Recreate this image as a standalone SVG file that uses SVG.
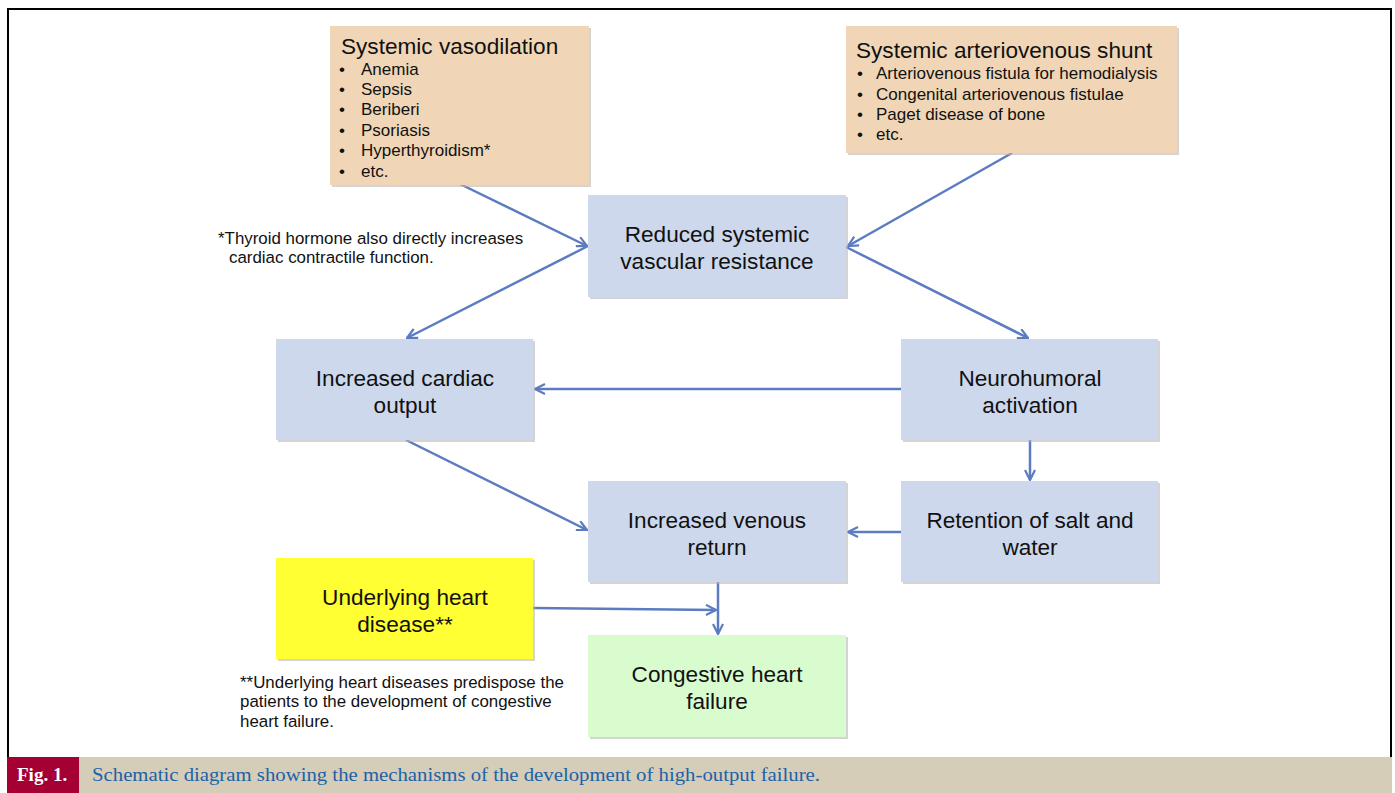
<svg xmlns="http://www.w3.org/2000/svg" width="1395" height="793" viewBox="0 0 1395 793">
<defs>
<style>
.t{font-family:"Liberation Sans",Arial,sans-serif;fill:#111;}
.big{font-size:22.6px;}
.mid{font-size:22.6px;text-anchor:middle;}
.sm{font-size:17px;}
.note{font-size:16.9px;}
.c{stroke:#5b7cc0;stroke-width:2.5;fill:none;marker-end:url(#ah);}
.tan{fill:#f0d6b6;}
.blue{fill:#cdd8ec;}
.sh{fill:#b8b8b8;opacity:0.6;}
</style>
<marker id="ah" viewBox="0 0 12 12" refX="11" refY="6" markerWidth="12" markerHeight="12" markerUnits="userSpaceOnUse" orient="auto">
<path d="M1,1 L11,6 L1,11" fill="none" stroke="#5b7cc0" stroke-width="2.2"/>
</marker>
</defs>
<rect x="0" y="0" width="1395" height="793" fill="#fff"/>
<rect x="8" y="9" width="1383" height="760" fill="none" stroke="#000" stroke-width="2"/>
<rect x="7" y="757" width="1385" height="36" fill="#d5cdb8"/>
<rect x="7" y="757" width="72" height="36" fill="#a50034"/>
<text x="17" y="781" font-family="Liberation Serif,serif" font-weight="bold" font-size="19" fill="#fff">Fig. 1.</text>
<text x="92" y="781" font-family="Liberation Serif,serif" font-size="18" fill="#1c62a8" textLength="728" lengthAdjust="spacingAndGlyphs">Schematic diagram showing the mechanisms of the development of high-output failure.</text>

<g id="connectors">
<line class="c" x1="460" y1="184" x2="587" y2="246"/>
<line class="c" x1="1012" y1="153" x2="848" y2="246"/>
<line class="c" x1="588" y1="246" x2="407" y2="338"/>
<line class="c" x1="846" y1="247" x2="1028" y2="338"/>
<line class="c" x1="901" y1="389" x2="535" y2="389"/>
<line class="c" x1="1030" y1="440" x2="1030" y2="480"/>
<line class="c" x1="406" y1="440" x2="587" y2="530"/>
<line class="c" x1="901" y1="532" x2="848" y2="532"/>
<line class="c" x1="533" y1="608" x2="716" y2="610"/>
<line class="c" x1="718" y1="582" x2="718" y2="634"/>
</g>

<g id="vasodilation">
<rect class="sh" x="332" y="28" width="259" height="159"/>
<rect class="tan" x="330" y="26" width="259" height="159"/>
<text class="t big" x="341" y="54">Systemic vasodilation</text>
<g class="t sm">
<text x="339" y="75">•</text><text x="361" y="75">Anemia</text>
<text x="339" y="95">•</text><text x="361" y="95">Sepsis</text>
<text x="339" y="115">•</text><text x="361" y="115">Beriberi</text>
<text x="339" y="136">•</text><text x="361" y="136">Psoriasis</text>
<text x="339" y="156">•</text><text x="361" y="156">Hyperthyroidism*</text>
<text x="339" y="177">•</text><text x="361" y="177">etc.</text>
</g>
</g>

<g id="shunt">
<rect class="sh" x="848" y="28" width="331" height="127"/>
<rect class="tan" x="846" y="26" width="331" height="127"/>
<text class="t big" x="856" y="58">Systemic arteriovenous shunt</text>
<g class="t sm">
<text x="857" y="79">•</text><text x="876" y="79">Arteriovenous fistula for hemodialysis</text>
<text x="857" y="100">•</text><text x="876" y="100">Congenital arteriovenous fistulae</text>
<text x="857" y="120">•</text><text x="876" y="120">Paget disease of bone</text>
<text x="857" y="140">•</text><text x="876" y="140">etc.</text>
</g>
</g>

<g id="svr">
<rect class="sh" x="590" y="197" width="258" height="102"/>
<rect class="blue" x="588" y="195" width="258" height="102"/>
<text class="t mid" x="717" y="242">Reduced systemic</text>
<text class="t mid" x="717" y="269">vascular resistance</text>
</g>

<g id="cardiac-output">
<rect class="sh" x="278" y="341" width="257" height="101"/>
<rect class="blue" x="276" y="339" width="257" height="101"/>
<text class="t mid" x="405" y="386">Increased cardiac</text>
<text class="t mid" x="405" y="413">output</text>
</g>

<g id="neurohumoral">
<rect class="sh" x="903" y="341" width="257" height="101"/>
<rect class="blue" x="901" y="339" width="257" height="101"/>
<text class="t mid" x="1030" y="386">Neurohumoral</text>
<text class="t mid" x="1030" y="413">activation</text>
</g>

<g id="venous-return">
<rect class="sh" x="590" y="483" width="258" height="101"/>
<rect class="blue" x="588" y="481" width="258" height="101"/>
<text class="t mid" x="717" y="528">Increased venous</text>
<text class="t mid" x="717" y="555">return</text>
</g>

<g id="retention">
<rect class="sh" x="903" y="483" width="257" height="101"/>
<rect class="blue" x="901" y="481" width="257" height="101"/>
<text class="t mid" x="1030" y="528">Retention of salt and</text>
<text class="t mid" x="1030" y="555">water</text>
</g>

<g id="heart-disease">
<rect class="sh" x="278" y="560" width="257" height="101"/>
<rect x="276" y="558" width="257" height="101" fill="#ffff33"/>
<text class="t mid" x="405" y="605">Underlying heart</text>
<text class="t mid" x="405" y="632">disease**</text>
</g>

<g id="chf">
<rect class="sh" x="590" y="637" width="258" height="102"/>
<rect x="588" y="635" width="258" height="102" fill="#d9fccf"/>
<text class="t mid" x="717" y="682">Congestive heart</text>
<text class="t mid" x="717" y="709">failure</text>
</g>

<g id="notes">
<text class="t note" x="218" y="244">*Thyroid hormone also directly increases</text>
<text class="t note" x="229" y="263">cardiac contractile function.</text>
<text class="t note" x="240" y="688">**Underlying heart diseases predispose the</text>
<text class="t note" x="240" y="707">patients to the development of congestive</text>
<text class="t note" x="240" y="727">heart failure.</text>
</g>
</svg>
